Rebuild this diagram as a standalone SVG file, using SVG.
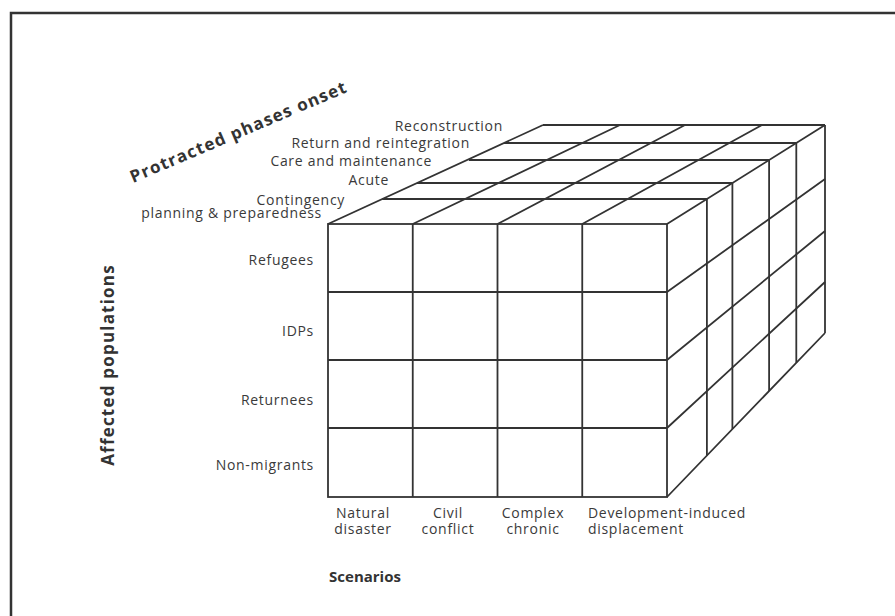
<svg xmlns="http://www.w3.org/2000/svg" width="895" height="616" viewBox="0 0 895 616">
<style>
.ln{stroke:#333;stroke-width:1.8;fill:none;stroke-linejoin:miter}
.t{font-family:"Open Sans","Liberation Sans",sans-serif;font-size:14px;letter-spacing:0.7px;fill:#3a3a3a}
.b{font-family:"Open Sans","Liberation Sans",sans-serif;font-weight:bold;fill:#333}
.big{font-size:17px;letter-spacing:1.2px}
.e{text-anchor:end}
.m{text-anchor:middle}
</style>
<rect width="895" height="616" fill="#fff"/>
<path d="M11,616 V13 H895" stroke="#333" stroke-width="2.5" fill="none"/>

<g id="cube-top" class="ln">
<path d="M382.3,199 H706.9 M417,183 H732.4 M468.9,160 H769.1 M504,143 H796.3 M543,125 H825"/>
<path d="M328,224 L543,125 M412.75,224 L620,125 M497.5,224 L685,125 M582.25,224 L762,125 M667,224 L825,125"/>
</g>
<g id="cube-side" class="ln">
<path d="M706.9,199 V455.6 M732.4,183 V429.1 M769.1,160 V391 M796.3,143 V362.8 M825,125 V333"/>
<path d="M667,292 L825,179 M667,360 L825,231 M667,428 L825,282 M667,497 L825,333"/>
</g>
<g id="cube-front" class="ln">
<rect x="328" y="224" width="339" height="273"/>
<path d="M412.75,224 V497 M497.5,224 V497 M582.25,224 V497 M328,292 H667 M328,360 H667 M328,428 H667"/>
</g>

<g id="phase-labels" class="t e">
<text x="503" y="131">Reconstruction</text>
<text x="470" y="148">Return and reintegration</text>
<text x="432" y="166">Care and maintenance</text>
<text x="389" y="185">Acute</text>
<text><tspan x="345" y="205">Contingency</tspan><tspan x="322" y="218">planning &amp; preparedness</tspan></text>
</g>
<g id="population-labels" class="t e">
<text x="314" y="265">Refugees</text>
<text x="314" y="336">IDPs</text>
<text x="314" y="405">Returnees</text>
<text x="314" y="470">Non-migrants</text>
</g>
<g id="scenario-labels" class="t">
<text class="m"><tspan x="363" y="518">Natural</tspan><tspan x="363" y="534">disaster</tspan></text>
<text class="m"><tspan x="448" y="518">Civil</tspan><tspan x="448" y="534">conflict</tspan></text>
<text class="m"><tspan x="533" y="518">Complex</tspan><tspan x="533" y="534">chronic</tspan></text>
<text><tspan x="588" y="518">Development-induced</tspan><tspan x="588" y="534">displacement</tspan></text>
</g>
<g id="axis-titles">
<text class="b m" x="365" y="582" font-size="15">Scenarios</text>
<text class="b big m" transform="translate(114,365) rotate(-90)">Affected populations</text>
<text class="b big" transform="translate(133,183) rotate(-23)">Protracted phases onset</text>
</g>
</svg>
